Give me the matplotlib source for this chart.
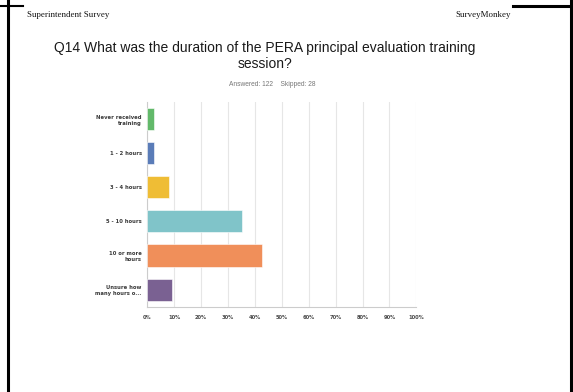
import matplotlib.pyplot as plt
from matplotlib.lines import Line2D

categories = ["Never received\ntraining", "1 - 2 hours", "3 - 4 hours",
              "5 - 10 hours", "10 or more\nhours", "Unsure how\nmany hours o..."]
percentages = [2.46, 2.46, 8.20, 35.25, 42.62, 9.02]
colors = ["#62b96a", "#5a7cb8", "#efbd35", "#80c4c9", "#f08f5a", "#7a6192"]
xtick_values = [0, 10, 20, 30, 40, 50, 60, 70, 80, 90, 100]
answered = 122
skipped = 28

fig = plt.figure(figsize=(5.73, 3.92), dpi=100)
fig.patch.set_facecolor("white")

# page frame lines
fig.add_artist(Line2D([8 / 573, 8 / 573], [0, 1], color="black", lw=2.2, transform=fig.transFigure))
fig.add_artist(Line2D([571 / 573, 571 / 573], [0, 1], color="black", lw=2.2, transform=fig.transFigure))
fig.add_artist(Line2D([0, 23 / 573], [1 - 5.5 / 392] * 2, color="black", lw=1.5, transform=fig.transFigure))
fig.add_artist(Line2D([513 / 573, 1], [1 - 5.5 / 392] * 2, color="black", lw=2.2, transform=fig.transFigure))

# page header
fig.text(27 / 573, 1 - 15 / 392, "Superintendent Survey", family="Liberation Serif",
         fontsize=6.4, ha="left", va="center", color="#111111")
fig.text(511 / 573, 1 - 15 / 392, "SurveyMonkey", family="Liberation Serif",
         fontsize=6.4, ha="right", va="center", color="#111111")

# question title
fig.text(265 / 573, 1 - 48 / 392, "Q14 What was the duration of the PERA principal evaluation training",
         family="Liberation Sans", fontsize=10, ha="center", va="center", color="#1a1a1a")
fig.text(265 / 573, 1 - 64.5 / 392, "session?",
         family="Liberation Sans", fontsize=10, ha="center", va="center", color="#1a1a1a")
fig.text(272 / 573, 1 - 85 / 392, f"Answered: {answered}    Skipped: {skipped}",
         family="Liberation Sans", fontsize=4.8, ha="center", va="center", color="#777777")

ax = fig.add_axes([147.3 / 573, 1 - 306.7 / 392, 269 / 573, 204.7 / 392])
y = list(range(len(categories)))
ax.barh(y, percentages, height=0.65, color=colors, edgecolor="white", linewidth=0.4, zorder=3)
ax.set_ylim(len(categories) - 0.5, -0.5)
ax.set_xlim(0, 100)

ax.set_xticks(xtick_values)
ax.set_xticklabels([f"{v}%" for v in xtick_values], fontsize=3.7, fontweight="bold",
                   color="#4a4a4a", family="DejaVu Sans")
ax.set_yticks(y)
ax.set_yticklabels(categories, fontsize=3.8, fontweight="bold", color="#3a3a3a",
                   family="DejaVu Sans", linespacing=1.3)
ax.tick_params(axis="both", length=0, pad=4)
ax.tick_params(axis="x", pad=6)

ax.grid(axis="x", color="#e6e6e6", linewidth=0.8, zorder=0)
for side in ["top", "right"]:
    ax.spines[side].set_visible(False)
ax.spines["left"].set_color("#cccccc")
ax.spines["bottom"].set_color("#cccccc")
ax.spines["left"].set_linewidth(0.8)
ax.spines["bottom"].set_linewidth(0.8)

plt.savefig("out.png", dpi=100, facecolor="white")
